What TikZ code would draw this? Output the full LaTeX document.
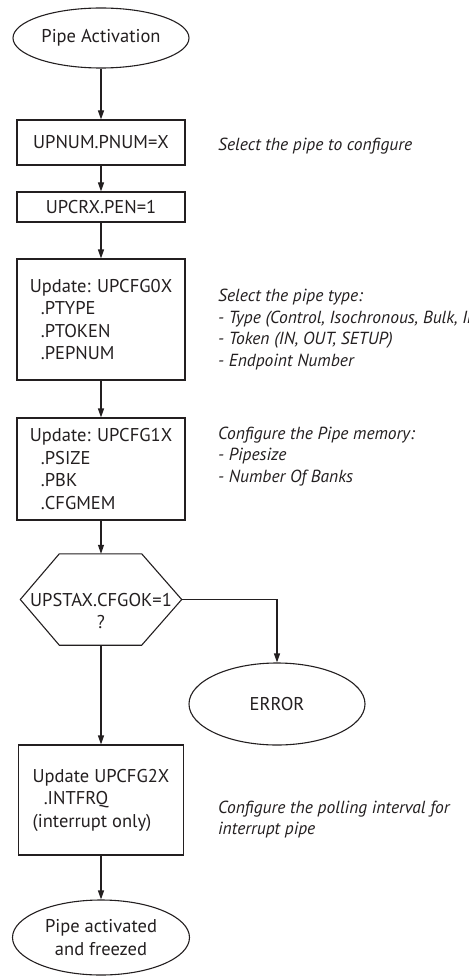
\documentclass[tikz,border=0pt]{standalone}
\usepackage{fontspec}
\setmainfont{PT Sans}
\usetikzlibrary{shapes.geometric,arrows.meta,calc}
\definecolor{ink}{HTML}{231F20}
\begin{document}
\begin{tikzpicture}[x=1pt,y=-1pt,
  every node/.style={text=ink, font=\fontsize{18.5}{22.5}\selectfont},
  term/.style={draw=ink, line width=1.1pt, ellipse, inner sep=0pt, align=center},
  proc/.style={draw=ink, line width=1.1pt, rectangle, inner sep=0pt, align=left},
  note/.style={anchor=west, align=left, inner sep=0pt, font=\fontsize{17.5}{21.7}\selectfont\itshape},
  arr/.style={draw=ink, line width=1.1pt, -{Triangle[length=9pt,width=6pt]}},
  hexline/.style={draw=ink, line width=1.1pt}
]
\useasboundingbox (0,0) rectangle (468,976);
\clip (0,0) rectangle (468,976);

\node[term, minimum width=176pt, minimum height=60pt] (start) at (101,38) {Pipe Activation};
\node[proc, minimum width=168pt, minimum height=45pt] (n1) at (101,142.5) {UPNUM.PNUM=X};
\node[proc, minimum width=168pt, minimum height=30pt] (n2) at (101,207) {UPCRX.PEN=1};
\node[proc, minimum width=168pt, minimum height=121pt] (n3) at (101,319.5)
  {Update: UPCFG0X\\\hspace*{0.6em}.PTYPE\\\hspace*{0.6em}.PTOKEN\\\hspace*{0.6em}.PEPNUM};
\node[proc, minimum width=168pt, minimum height=102pt] (n4) at (101,469)
  {Update: UPCFG1X\\\hspace*{0.6em}.PSIZE\\\hspace*{0.6em}.PBK\\\hspace*{0.6em}.CFGMEM};
\node[inner sep=0pt, minimum width=161pt, minimum height=91pt] (dec) at (101,599.5) {};
\node[align=center, inner sep=0pt] (declbl) at (101,611) {UPSTAX.CFGOK=1\\?};
\draw[hexline] (dec.west) -- ($(dec.north west)+(39,0)$) -- ($(dec.north east)+(-40,0)$)
  -- (dec.east) -- ($(dec.south east)+(-40,0)$) -- ($(dec.south west)+(39,0)$) -- cycle;
\node[term, minimum width=176pt, minimum height=82pt] (err) at (277,704) {ERROR};
\node[proc, minimum width=165pt, minimum height=110pt] (n5) at (101,800)
  {Update UPCFG2X\\\hspace*{0.6em}.INTFRQ\\(interrupt only)};
\node[term, minimum width=177pt, minimum height=75pt] (fin) at (101,937.5) {Pipe activated\\and freezed};

\node[note] (c1) at (218,146) {Select the pipe to configure};
\node[note] (c2) at (218,329.5) {Select the pipe type:\\- Type (Control, Isochronous, Bulk, Interrupt)\\- Token (IN, OUT, SETUP)\\- Endpoint Number};
\node[note] (c3) at (218,456.5) {Configure the Pipe memory:\\- Pipesize\\- Number Of Banks};
\node[note] (c4) at (218,819.5) {Configure the polling interval for\\interrupt pipe};

\draw[arr] (start) -- (n1);
\draw[arr] (n1) -- (n2);
\draw[arr] (n2) -- (n3);
\draw[arr] (n3) -- (n4);
\draw[arr] (n4) -- (dec.north);
\draw[arr] (dec.south) -- (n5);
\draw[arr] (n5) -- (fin);
\draw[arr] (dec.east) -| (err.north);
\end{tikzpicture}
\end{document}
